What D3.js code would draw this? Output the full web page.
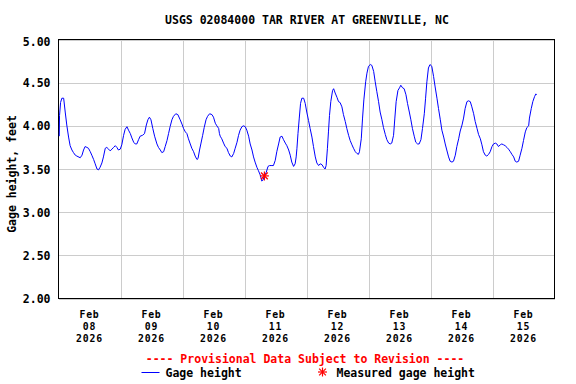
<!DOCTYPE html>
<html><head><meta charset="utf-8">
<script src="https://cdn.jsdelivr.net/npm/d3@7"></script>
<style>
body{margin:0;background:#fff}
svg{display:block}
text{font-family:"DejaVu Sans Mono","Liberation Mono",monospace;font-weight:bold;font-size:11.5px}
text.xl{font-size:9.8px;letter-spacing:0.8px}
</style>
</head><body><svg id="chart" width="576" height="384"></svg>
<script>
const title = "USGS 02084000 TAR RIVER AT GREENVILLE, NC";
const yLabel = "Gage height, feet";
const noteText = "---- Provisional Data Subject to Revision ----";
const seriesName = "Gage height";
const measuredName = "Measured gage height";
const yTicks = [2.0, 2.5, 3.0, 3.5, 4.0, 4.5, 5.0];
const dayLabels = ["2026-02-08","2026-02-09","2026-02-10","2026-02-11","2026-02-12","2026-02-13","2026-02-14","2026-02-15"];
const startTime = "2026-02-08T00:00:00Z";
const endTime = "2026-02-16T00:00:00Z";
// hours after start, gage height (ft)
const hours = [0.3,0.4,0.8,1.3,2.0,2.6,3.2,3.9,4.5,5.2,5.8,6.5,7.1,8.4,9.1,9.7,10.3,11.0,11.6,12.3,12.9,13.6,14.2,14.9,15.5,16.1,16.8,17.4,18.1,18.7,19.4,20.0,20.7,21.3,22.0,22.6,23.2,23.9,24.5,25.2,25.8,26.5,27.1,27.8,28.4,29.1,29.7,30.3,31.0,31.6,32.5,33.3,34.0,34.6,35.2,35.8,36.5,37.2,38.1,38.7,39.4,40.0,40.7,41.3,42.0,42.6,43.2,43.9,44.5,45.4,46.2,47.1,47.8,48.4,49.1,49.7,50.3,51.0,51.6,52.3,52.9,53.6,54.0,54.6,55.1,55.8,56.4,57.1,57.7,58.5,59.4,60.0,60.7,61.3,62.0,62.3,62.6,63.2,63.9,64.5,65.2,65.8,66.5,67.1,67.8,68.4,69.1,69.7,70.3,71.0,71.6,72.3,72.9,73.6,74.2,74.9,75.5,76.1,76.8,77.4,78.1,78.7,79.1,79.6,80.4,81.1,81.7,82.6,83.2,83.9,84.5,85.2,85.8,86.5,87.1,87.8,88.4,89.1,89.7,90.3,91.0,91.6,92.0,92.3,92.7,93.2,93.7,94.2,94.9,95.5,96.1,96.8,97.4,98.1,98.7,99.4,100.0,100.7,101.3,102.0,102.6,103.2,103.6,104.1,104.5,104.9,105.4,106.1,106.5,107.1,107.8,108.4,109.0,109.7,110.3,111.0,111.6,112.3,112.9,113.6,114.2,114.9,115.5,116.1,116.5,117.2,117.7,118.2,118.9,119.4,120.0,120.7,121.3,122.0,122.6,123.2,123.9,124.5,125.2,125.8,126.5,127.1,127.8,128.4,129.0,129.7,130.2,130.7,131.4,132.0,132.5,133.2,133.8,134.5,135.1,135.8,136.4,137.0,137.7,138.3,139.0,139.6,140.3,140.9,141.6,142.1,142.6,143.2,143.8,144.5,145.2,145.8,146.5,147.1,147.8,148.4,149.1,149.7,150.3,151.0,151.6,152.3,152.9,153.6,154.2,154.9,155.5,156.2,156.8,157.4,158.1,158.7,159.4,160.0,160.7,161.3,162.0,162.6,163.3,163.9,164.5,165.2,165.8,166.5,167.1,167.8,168.4,169.1,169.7,170.3,171.0,171.6,172.3,172.9,173.6,174.2,174.9,175.5,176.2,176.8,177.4,178.1,178.7,179.4,180.0,180.7,181.3,182.0,182.3,183.0,183.6,184.3,184.8,185.1];
const gage = [3.88,4.12,4.27,4.32,4.32,4.16,4.01,3.87,3.77,3.72,3.69,3.66,3.65,3.63,3.66,3.72,3.76,3.75,3.74,3.70,3.66,3.61,3.56,3.50,3.49,3.52,3.57,3.64,3.74,3.75,3.73,3.71,3.73,3.75,3.77,3.75,3.72,3.73,3.78,3.89,3.96,3.99,3.95,3.91,3.86,3.81,3.79,3.79,3.84,3.88,3.89,3.91,4.01,4.07,4.10,4.07,3.97,3.88,3.79,3.75,3.72,3.69,3.70,3.76,3.83,3.91,3.99,4.07,4.11,4.14,4.13,4.07,4.02,3.97,3.93,3.91,3.85,3.79,3.74,3.70,3.65,3.61,3.62,3.72,3.79,3.89,3.98,4.07,4.11,4.14,4.13,4.10,4.03,4.00,3.97,3.91,3.88,3.85,3.80,3.76,3.74,3.69,3.65,3.64,3.68,3.74,3.81,3.89,3.95,3.99,4.00,3.99,3.95,3.88,3.79,3.72,3.64,3.58,3.52,3.48,3.43,3.36,3.37,3.41,3.46,3.53,3.54,3.54,3.54,3.60,3.70,3.79,3.87,3.88,3.84,3.80,3.77,3.72,3.66,3.58,3.53,3.56,3.64,3.74,3.91,4.09,4.26,4.32,4.32,4.26,4.16,4.06,3.97,3.87,3.76,3.64,3.57,3.54,3.56,3.55,3.52,3.50,3.54,3.74,3.93,4.12,4.28,4.41,4.43,4.38,4.33,4.28,4.27,4.22,4.13,4.05,3.97,3.89,3.83,3.78,3.74,3.70,3.68,3.67,3.70,3.85,4.09,4.30,4.51,4.61,4.69,4.71,4.70,4.63,4.51,4.40,4.28,4.16,4.07,3.98,3.90,3.84,3.80,3.79,3.80,3.89,4.09,4.28,4.41,4.44,4.47,4.44,4.43,4.36,4.26,4.16,4.07,3.97,3.88,3.81,3.79,3.79,3.84,3.97,4.14,4.32,4.51,4.67,4.71,4.69,4.57,4.45,4.32,4.20,4.07,3.95,3.87,3.79,3.72,3.64,3.59,3.58,3.59,3.66,3.76,3.85,3.94,4.01,4.09,4.20,4.28,4.29,4.28,4.22,4.14,4.05,3.97,3.90,3.85,3.78,3.70,3.66,3.65,3.67,3.70,3.76,3.79,3.80,3.79,3.76,3.78,3.79,3.78,3.77,3.75,3.73,3.70,3.67,3.64,3.59,3.58,3.59,3.66,3.74,3.83,3.93,3.98,4.00,4.09,4.20,4.28,4.34,4.37,4.36];
const measuredHours = [79.7];
const measuredGage = [3.42];

const svg = d3.select("#chart");
const t0 = new Date(startTime);
const toDate = h => new Date(t0.getTime() + h * 3600e3);
const x = d3.scaleUtc().domain([t0, new Date(endTime)]).range([58.5, 554.5]);
const y = d3.scaleLinear().domain([2, 5]).range([298.5, 39.5]);

// gridlines
const grid = svg.append("g").attr("stroke", "#cccccc").attr("stroke-width", 1).attr("shape-rendering", "crispEdges");
grid.selectAll("line.h").data(yTicks).join("line")
  .attr("x1", x.range()[0]).attr("x2", x.range()[1])
  .attr("y1", d => Math.round(y(d)) + 0.5).attr("y2", d => Math.round(y(d)) + 0.5);
const midnights = d3.utcDay.range(d3.utcDay.offset(t0, 1), new Date(endTime));
grid.selectAll("line.v").data(midnights).join("line")
  .attr("x1", d => Math.round(x(d)) + 0.5).attr("x2", d => Math.round(x(d)) + 0.5)
  .attr("y1", y.range()[1]).attr("y2", y.range()[0]);

// y axis labels
const yAxis = d3.axisLeft(y).tickValues(yTicks).tickFormat(d3.format(".2f")).tickSize(0).tickPadding(8);
const ya = svg.append("g").attr("transform", `translate(${x.range()[0]},0)`).call(yAxis);
ya.select(".domain").remove();
ya.selectAll("text").attr("font-family", null).attr("font-size", null).attr("fill", "#000").attr("dy", "0.36em")
  .attr("y", d => d === 5 ? 2 : 0);

// x labels (centered at noon)
const fmtB = d3.utcFormat("%b"), fmtD = d3.utcFormat("%d"), fmtY = d3.utcFormat("%Y");
const xl = svg.append("g").selectAll("g").data(dayLabels.map(s => new Date(s + "T12:00:00Z"))).join("g")
  .attr("transform", d => `translate(${x(d)},0)`);
xl.append("text").attr("class", "xl").attr("text-anchor", "middle").attr("y", 318).text(fmtB);
xl.append("text").attr("class", "xl").attr("text-anchor", "middle").attr("y", 330).text(fmtD);
xl.append("text").attr("class", "xl").attr("text-anchor", "middle").attr("y", 342).text(fmtY);

// frame
svg.append("rect").attr("x", x.range()[0]).attr("y", y.range()[1])
  .attr("width", x.range()[1] - x.range()[0]).attr("height", y.range()[0] - y.range()[1])
  .attr("fill", "none").attr("stroke", "#000").attr("stroke-width", 1).attr("shape-rendering", "crispEdges");

// line
const pts = hours.map((h, i) => [toDate(h), gage[i]]);
svg.append("path").datum(pts)
  .attr("fill", "none").attr("stroke", "#0000ff").attr("stroke-width", 1)
  .attr("d", d3.line().x(d => x(d[0])).y(d => y(d[1])));

// measured points (asterisk)
function star(g, cx, cy, r) {
  const a = [[-r,0,r,0],[0,-r,0,r],[-r*0.75,-r*0.75,r*0.75,r*0.75],[-r*0.75,r*0.75,r*0.75,-r*0.75]];
  a.forEach(s => g.append("line").attr("x1", cx + s[0]).attr("y1", cy + s[1]).attr("x2", cx + s[2]).attr("y2", cy + s[3]));
}
const mg = svg.append("g").attr("stroke", "#ff0000").attr("stroke-width", 1.2);
measuredHours.forEach((h, i) => star(mg, x(toDate(h)), y(measuredGage[i]), 4.5));

// title & labels
svg.append("text").attr("x", 307).attr("y", 24).attr("text-anchor", "middle").text(title);
svg.append("text").attr("transform", "translate(16,174) rotate(-90)").attr("text-anchor", "middle").text(yLabel);

// legend
svg.append("text").attr("x", 305).attr("y", 363).attr("text-anchor", "middle").attr("fill", "#ff0000").text(noteText);
svg.append("line").attr("x1", 141.5).attr("x2", 159.5).attr("y1", 372.5).attr("y2", 372.5).attr("stroke", "#0000ff").attr("stroke-width", 1);
svg.append("text").attr("x", 165.5).attr("y", 376.5).text(seriesName);
const lg = svg.append("g").attr("stroke", "#ff0000").attr("stroke-width", 1.2);
star(lg, 322.5, 372, 4.5);
svg.append("text").attr("x", 336.5).attr("y", 376.5).text(measuredName);
</script>
</body></html>
